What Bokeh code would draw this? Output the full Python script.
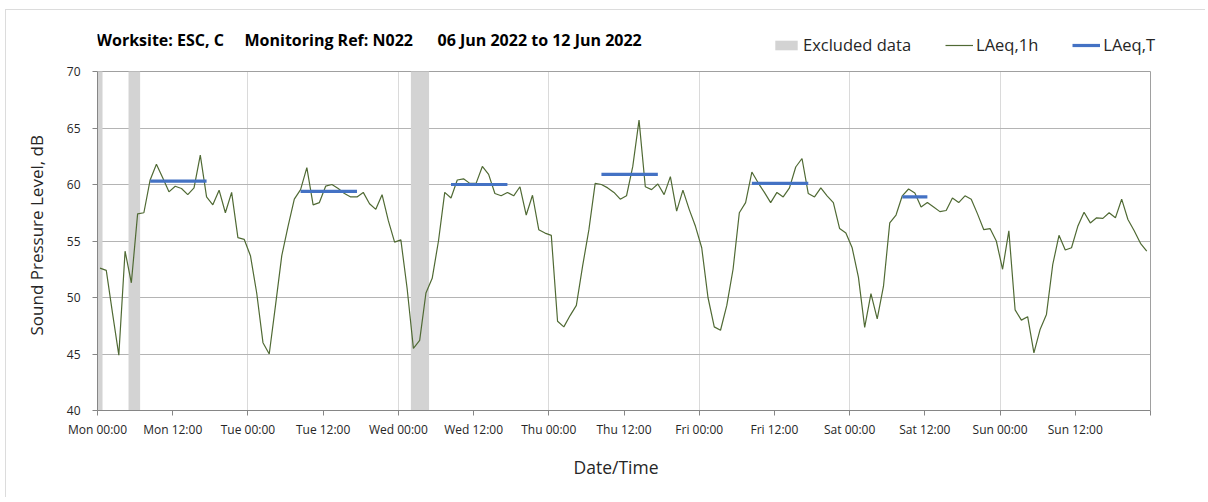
import numpy as np
from bokeh.plotting import figure
from bokeh.models import Range1d, FixedTicker, Legend, LegendItem, Label, Grid, Title
from bokeh.embed import file_html
from bokeh.resources import INLINE

# ---------------- data ----------------
# hourly LAeq,1h values (Mon 00:00 .. Sun 23:00), dB
laeq_1h = [
    52.6, 52.4, 48.6, 44.9, 54.1, 51.3, 57.4, 57.5, 60.4, 61.8,
    60.6, 59.35, 59.85, 59.65, 59.1, 59.7, 62.6, 58.9, 58.2, 59.5,
    57.5, 59.3, 55.3, 55.15, 53.7, 50.4, 46.0, 45.0, 49.3, 53.7,
    56.3, 58.7, 59.55, 61.5, 58.2, 58.4, 59.85, 60.0, 59.65, 59.2,
    58.9, 58.9, 59.3, 58.3, 57.8, 59.1, 56.8, 54.9, 55.1, 50.8,
    45.5, 46.2, 50.4, 51.7, 55.0, 59.3, 58.8, 60.4, 60.5, 60.1,
    60.1, 61.6, 60.9, 59.2, 59.0, 59.3, 59.0, 59.8, 57.3, 59.05,
    56.0, 55.7, 55.5, 47.9, 47.4, 48.4, 49.3, 52.8, 56.0, 60.1,
    60.0, 59.7, 59.3, 58.7, 59.0, 61.6, 65.7, 59.8, 59.55, 60.05,
    59.1, 60.7, 57.65, 59.5, 57.8, 56.3, 54.4, 50.0, 47.4, 47.1,
    49.3, 52.5, 57.5, 58.4, 61.1, 60.15, 59.3, 58.4, 59.3, 58.9,
    59.7, 61.55, 62.3, 59.2, 58.9, 59.7, 59.0, 58.4, 56.1, 55.7,
    54.4, 51.8, 47.35, 50.35, 48.1, 51.0, 56.6, 57.3, 59.0, 59.6,
    59.25, 58.0, 58.4, 58.0, 57.6, 57.7, 58.8, 58.4, 59.0, 58.7,
    57.4, 56.0, 56.1, 55.0, 52.5, 55.9, 48.9, 48.0, 48.3, 45.1,
    47.2, 48.5, 52.9, 55.5, 54.2, 54.4, 56.3, 57.55, 56.6, 57.05,
    57.0, 57.5, 57.05, 58.7, 56.9, 55.9, 54.8, 54.1,
]
# excluded-data periods (hours from Mon 00:00)
excl_start = [0.0, 4.95, 50.0]
excl_end = [0.8, 6.8, 52.9]
# LAeq,T periods (start/end hour index) and levels
laeqT_start = [8, 32, 56, 80, 104, 128]
laeqT_end = [17, 41, 65, 89, 113, 132]
laeqT_val = [60.3, 59.4, 60.0, 60.9, 60.1, 58.9]
# x tick labels every 12 h
tick_labels = ["Mon 00:00", "Mon 12:00", "Tue 00:00", "Tue 12:00",
               "Wed 00:00", "Wed 12:00", "Thu 00:00", "Thu 12:00",
               "Fri 00:00", "Fri 12:00", "Sat 00:00", "Sat 12:00",
               "Sun 00:00", "Sun 12:00"]
y_ticks = [40, 45, 50, 55, 60, 65, 70]

FONT = "Open Sans"
OFFSET = 0.4  # hour stamp offset of each hourly value
hours = [i + OFFSET for i in range(len(laeq_1h))]
t0 = [s + OFFSET for s in laeqT_start]
t1 = [e + OFFSET for e in laeqT_end]
tick_pos = [12 * i for i in range(len(tick_labels))] + [168]
overrides = {12 * i: lab for i, lab in enumerate(tick_labels)}
overrides[168] = ""

# layout: the frame is larger than the 0-168 h / 40-70 dB chart area so that
# title and legend can be placed inside it without clipping
PX_PER_DB = (410 - 71) / 30.0
Y_TOP = 70 + (71 - 12) / PX_PER_DB
PX_PER_H = (1150 - 97) / 168.0
X_END = 168 + (1200 - 1150) / PX_PER_H

p = figure(width=1200, height=488, output_backend="svg", toolbar_location=None,
           x_range=Range1d(0, X_END), y_range=Range1d(40, Y_TOP))
p.min_border_left = 91
p.min_border_right = 6
p.min_border_top = 2
p.min_border_bottom = 88
p.outline_line_color = None
p.styles = {"margin-left": "5px", "margin-top": "9px",
            "border-top": "1px solid #dcdcdc", "border-left": "1px solid #dcdcdc"}

# excluded bands
bands = p.quad(left=excl_start, right=excl_end, bottom=40, top=70,
               fill_color="#d3d3d3", line_color=None)
# hourly line
ln = p.line(hours, laeq_1h, line_color="#506a34", line_width=1.2)
# LAeq,T
seg = p.segment(x0=t0, x1=t1, y0=laeqT_val, y1=laeqT_val,
                line_color="#4472C4", line_width=3.2)

# axes
xa = p.xaxis[0]
xa.ticker = FixedTicker(ticks=tick_pos)
xa.bounds = (0, 168)
xa.major_label_overrides = overrides
xa.minor_tick_line_color = None
xa.major_tick_in = 0
xa.major_tick_out = 5
xa.axis_line_color = "#868686"
xa.major_tick_line_color = "#868686"
xa.major_label_text_font = FONT
xa.major_label_text_font_size = "12px"
xa.major_label_text_color = "#262626"
xa.major_label_standoff = 5
xa.axis_label = None

ya = p.yaxis[0]
ya.ticker = FixedTicker(ticks=y_ticks)
ya.bounds = (40, 70)
ya.minor_tick_line_color = None
ya.major_tick_in = 0
ya.major_tick_out = 5
ya.axis_line_color = "#868686"
ya.major_tick_line_color = "#868686"
ya.major_label_text_font = FONT
ya.major_label_text_font_size = "12px"
ya.major_label_text_color = "#262626"
ya.major_label_standoff = 12

# axis titles, positioned along the chart area (not the enlarged frame)
ytitle = Title(text="Sound Pressure Level, dB", align="left", offset=75,
               text_font=FONT, text_font_size="17px", text_font_style="normal",
               text_color="#262626", standoff=31)
p.add_layout(ytitle, "left")
xtitle = Title(text="Date/Time", align="left", offset=476,
               text_font=FONT, text_font_size="17.5px", text_font_style="normal",
               text_color="#262626", standoff=24)
p.add_layout(xtitle, "below")

# grids
p.ygrid.ticker = FixedTicker(ticks=y_ticks[1:-1])
p.ygrid.grid_line_color = "#b4b4b4"
p.ygrid.cross_bounds = (0, 168)
p.xgrid.ticker = FixedTicker(ticks=[24 * i for i in range(1, 7)])
p.xgrid.grid_line_color = "#dadada"
p.xgrid.cross_bounds = (40, 70)
top_line = Grid(dimension=1, ticker=FixedTicker(ticks=[70]), grid_line_color="#a0a0a0")
top_line.cross_bounds = (0, 168)
right_line = Grid(dimension=0, ticker=FixedTicker(ticks=[168]), grid_line_color="#a0a0a0")
right_line.cross_bounds = (40, 70)
p.add_layout(top_line)
p.add_layout(right_line)

# title (three parts)
for xs, txt in [(-1, "Worksite: ESC, C"), (147, "Monitoring Ref: N022"),
                (340, "06 Jun 2022 to 12 Jun 2022")]:
    p.add_layout(Label(x=xs, y=371, x_units="screen", y_units="screen", text=txt,
                       text_font=FONT, text_font_size="16px", text_font_style="bold",
                       text_color="#000000", text_baseline="alphabetic"))

legend = Legend(items=[LegendItem(label="Excluded data", renderers=[bands]),
                       LegendItem(label="LAeq,1h", renderers=[ln]),
                       LegendItem(label="LAeq,T", renderers=[seg])],
                orientation="horizontal", location=(675, 354))
legend.border_line_color = None
legend.background_fill_alpha = 0
legend.padding = 0
legend.margin = 0
legend.spacing = 34
legend.glyph_width = 28
legend.glyph_height = 12
legend.label_standoff = 3
legend.label_text_font = FONT
legend.label_text_font_size = "16.5px"
legend.label_text_color = "#262626"
p.add_layout(legend, "center")

open("out.html", "w").write(file_html(p, INLINE))
